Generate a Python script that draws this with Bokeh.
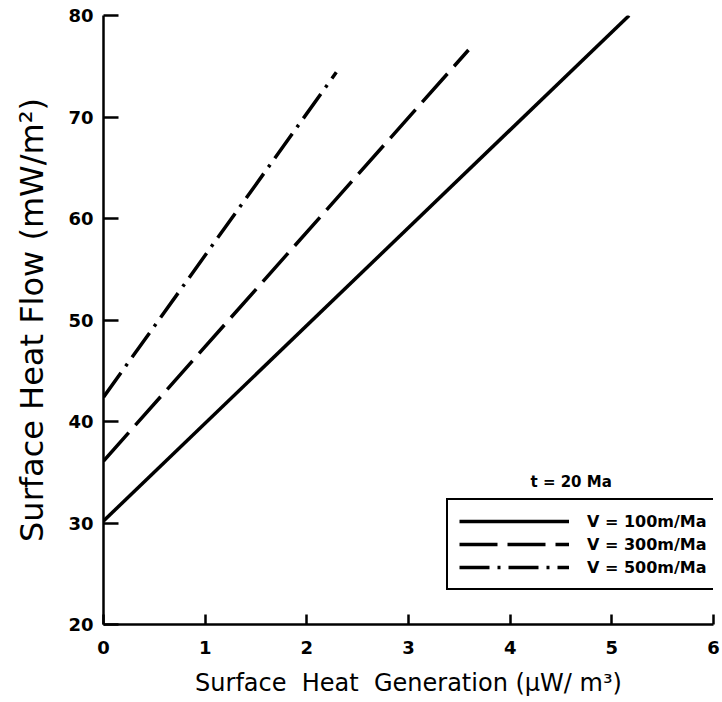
from bokeh.plotting import figure
from bokeh.models import Range1d, FixedTicker, Legend, LegendItem, Label
from bokeh.embed import file_html
from bokeh.resources import INLINE

# Data (endpoints)
heat_gen_100 = [0.0, 5.17]
heat_flow_100 = [30.2, 80.0]
heat_gen_300 = [0.0, 3.59]
heat_flow_300 = [36.1, 76.6]
heat_gen_500 = [0.0, 2.29]
heat_flow_500 = [42.4, 74.4]
series_labels = ["V = 100m/Ma", "V = 300m/Ma", "V = 500m/Ma"]
x_ticks = [0, 1, 2, 3, 4, 5, 6]
y_ticks = [20, 30, 40, 50, 60, 70, 80]

NB = "\u00a0"

p = figure(width=722, height=702, output_backend="svg", toolbar_location=None,
           x_range=Range1d(0, 6), y_range=Range1d(20, 80),
           min_border_left=103, min_border_right=9, min_border_top=15, min_border_bottom=78)
p.outline_line_color = None
p.xgrid.visible = False
p.ygrid.visible = False
p.background_fill_color = "white"
p.border_fill_color = "white"

tick_font = "DejaVu Sans"
for ax in (p.xaxis[0], p.yaxis[0]):
    ax.axis_line_width = 2.5
    ax.axis_line_color = "black"
    ax.major_tick_line_width = 2.5
    ax.major_tick_line_color = "black"
    ax.minor_tick_line_color = None
    ax.major_tick_out = 0
    ax.major_label_text_font = tick_font
    ax.major_label_text_font_style = "bold"
    ax.major_label_text_font_size = "18px"
    ax.major_label_text_color = "black"
    ax.axis_label_text_font = "DejaVu Sans"
    ax.axis_label_text_font_style = "normal"
    ax.axis_label_text_color = "black"

p.xaxis[0].ticker = FixedTicker(ticks=x_ticks)
p.yaxis[0].ticker = FixedTicker(ticks=y_ticks)
p.xaxis[0].major_tick_in = 10
p.yaxis[0].major_tick_in = 15
p.xaxis[0].major_label_standoff = 16
p.yaxis[0].major_label_standoff = 10
p.xaxis[0].axis_label = "Surface" + NB * 2 + "Heat" + NB * 2 + "Generation (\u03bcW/ m\u00b3)"
p.yaxis[0].axis_label = "Surface Heat Flow (mW/m\u00b2)"
p.xaxis[0].axis_label_text_font_size = "24px"
p.yaxis[0].axis_label_text_font_size = "32px"
p.xaxis[0].axis_label_standoff = 12
p.yaxis[0].axis_label_standoff = 14

r1 = p.line(heat_gen_100, heat_flow_100, line_color="black", line_width=3.5)
r2 = p.line(heat_gen_300, heat_flow_300, line_color="black", line_width=3.5,
            line_dash="38 10")
r3 = p.line(heat_gen_500, heat_flow_500, line_color="black", line_width=3.5,
            line_dash="30 8 3 8")

legend = Legend(items=[LegendItem(label=series_labels[0], renderers=[r1]),
                       LegendItem(label=series_labels[1], renderers=[r2]),
                       LegendItem(label=series_labels[2], renderers=[r3])],
                location=(343, 34))
legend.border_line_color = "black"
legend.border_line_alpha = 1.0
legend.border_line_width = 2.5
legend.background_fill_color = "white"
legend.background_fill_alpha = 1.0
legend.glyph_width = 110
legend.glyph_height = 20
legend.spacing = 3
legend.padding = 11
legend.margin = 0
legend.label_standoff = 18
legend.label_text_font = "DejaVu Sans"
legend.label_text_font_style = "bold"
legend.label_text_font_size = "16px"
legend.label_text_color = "black"
p.add_layout(legend)

p.add_layout(Label(x=4.6, y=34.0, text="t = 20 Ma", text_align="center",
                   text_baseline="middle", text_font="DejaVu Sans",
                   text_font_style="bold", text_font_size="15px",
                   text_color="black"))

open("out.html", "w").write(file_html(p, INLINE))
